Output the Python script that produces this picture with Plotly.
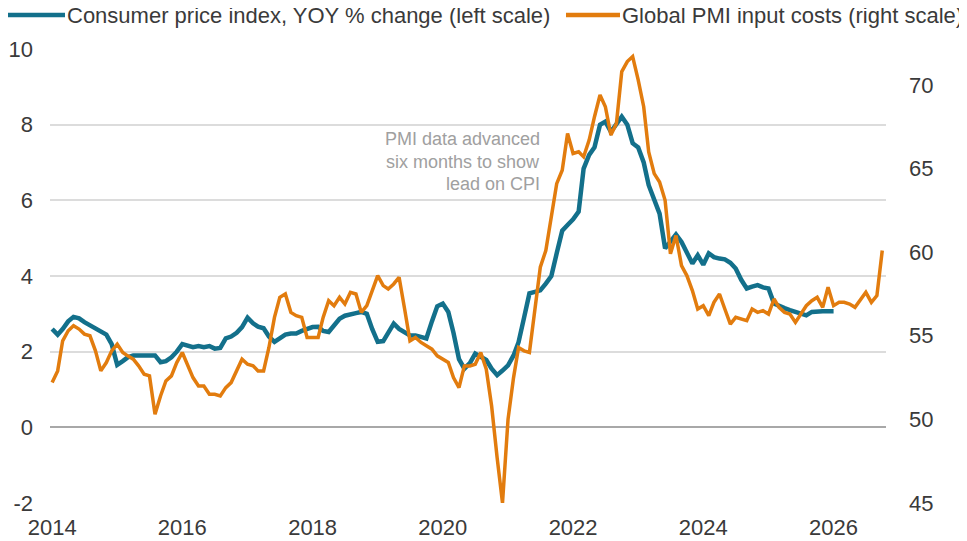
import pandas as pd
import plotly.graph_objects as go

# monthly series
cpi_start = "2014-01-01"
cpi_yoy = [
    2.6, 2.45, 2.6, 2.8, 2.92, 2.88, 2.78, 2.7, 2.62, 2.55, 2.45, 2.2,
    1.65, 1.75, 1.85, 1.9, 1.9, 1.9, 1.9, 1.9, 1.72, 1.75, 1.85, 2.0,
    2.2, 2.15, 2.12, 2.15, 2.12, 2.15, 2.08, 2.1, 2.35, 2.4, 2.5, 2.65,
    2.9, 2.75, 2.66, 2.62, 2.4, 2.26, 2.35, 2.45, 2.48, 2.48, 2.55, 2.6,
    2.65, 2.66, 2.55, 2.52, 2.7, 2.87, 2.95, 3.0, 3.02, 3.05, 3.0, 2.6,
    2.26, 2.28, 2.5, 2.74, 2.6, 2.52, 2.43, 2.43, 2.38, 2.35, 2.8, 3.2,
    3.27, 3.05, 2.5, 1.8, 1.55, 1.7, 1.95, 1.85, 1.78, 1.55, 1.38, 1.5,
    1.64, 1.9, 2.25, 2.9, 3.54, 3.58, 3.62, 3.8, 4.0, 4.6, 5.2, 5.35,
    5.5, 5.7, 6.84, 7.2, 7.4, 8.0, 8.08, 7.81, 8.0, 8.21, 8.0, 7.51,
    7.4, 7.0, 6.4, 6.0, 5.65, 4.73, 4.9, 5.1, 4.9, 4.6, 4.33, 4.55,
    4.3, 4.6, 4.5, 4.46, 4.44, 4.35, 4.2, 3.9, 3.67, 3.72, 3.76, 3.7,
    3.67, 3.27, 3.2, 3.15, 3.1, 3.05, 3.0, 2.96, 3.05, 3.07, 3.07, 3.07,
    3.07,
]

# PMI input costs, already shifted forward six months
pmi_start = "2014-01-01"
pmi_input = [
    52.2, 52.9, 54.7, 55.3, 55.6, 55.4, 55.1, 55.0, 54.1, 52.9, 53.4, 54.1,
    54.5, 54.0, 53.8, 53.6, 53.2, 52.7, 52.6, 50.3, 51.4, 52.3, 52.6, 53.4,
    54.0, 53.2, 52.5, 52.0, 52.0, 51.5, 51.5, 51.4, 51.9, 52.2, 52.9, 53.6,
    53.3, 53.2, 52.9, 52.9, 54.3, 56.1, 57.3, 57.5, 56.4, 56.2, 56.1, 54.9,
    54.9, 54.9, 56.1, 57.1, 56.8, 57.3, 56.9, 57.6, 57.5, 56.4, 56.8, 57.7,
    58.6, 58.0, 57.8, 58.1, 58.5, 56.6, 54.7, 54.9, 54.6, 54.4, 54.2, 53.8,
    53.6, 53.4, 52.5, 51.9, 53.2, 53.2, 53.3, 54.0, 53.0, 50.8, 47.7, 45.0,
    50.0, 52.5, 54.3, 54.1, 54.0, 56.4, 59.1, 60.1, 62.0, 64.1, 64.9, 67.1,
    65.9, 66.0, 65.7, 66.7, 68.1, 69.4, 68.7, 67.0, 67.7, 70.8, 71.4, 71.7,
    70.3, 68.7, 66.0, 64.7, 64.2, 63.1, 59.9, 61.0, 59.2, 58.6, 57.7, 56.6,
    56.8, 56.2, 57.0, 57.5, 56.6, 55.7, 56.1, 56.0, 55.9, 56.6, 56.4, 56.5,
    56.3, 57.2, 56.7, 56.4, 56.3, 55.8, 56.3, 56.8, 57.1, 57.3, 56.7, 57.9,
    56.8, 57.0, 57.0, 56.9, 56.7, 57.2, 57.6, 57.0, 57.4, 60.1,
]

cpi_name = "Consumer price index, YOY % change (left scale)"
pmi_name = "Global PMI input costs (right scale)"

note_lines = ["PMI data advanced", "six months to show", "lead on CPI"]
note_x = "2021-07-10"
note_y = [7.62, 7.02, 6.42]

left_ticks = [-2, 0, 2, 4, 6, 8, 10]
left_labels = ["-2", "0", "2", "4", "6", "8", "10"]
right_ticks = [45, 50, 55, 60, 65, 70]

FONT = "Arial, Liberation Sans, sans-serif"
TEXT = "#3a3a3a"
BLUE = "#13708b"
ORANGE = "#e27c0e"

W, H = 967, 541
# the page body adds an 8px offset, so margins are pulled in by that much
PAGE_PAD = 8
M = dict(l=42, r=89, t=41, b=46)


def px_x(px):
    return (px - PAGE_PAD - M["l"]) / (W - M["l"] - M["r"])


def px_y(py):
    return (H - M["b"] - (py - PAGE_PAD)) / (H - M["t"] - M["b"])


cpi_dates = pd.date_range(cpi_start, periods=len(cpi_yoy), freq="MS")
pmi_dates = pd.date_range(pmi_start, periods=len(pmi_input), freq="MS")

fig = go.Figure()
fig.add_trace(
    go.Scatter(
        x=cpi_dates,
        y=cpi_yoy,
        mode="lines",
        name=cpi_name,
        line=dict(color=BLUE, width=4.5),
    )
)
fig.add_trace(
    go.Scatter(
        x=pmi_dates,
        y=pmi_input,
        mode="lines",
        name=pmi_name,
        line=dict(color=ORANGE, width=3.5),
        yaxis="y2",
    )
)

# legend drawn by hand so it stays on one row above the plot
for (x0, x1), color, label in [
    ((8, 65), BLUE, cpi_name),
    ((566, 620), ORANGE, pmi_name),
]:
    fig.add_shape(
        type="line",
        xref="paper",
        yref="paper",
        x0=px_x(x0),
        x1=px_x(x1),
        y0=px_y(15),
        y1=px_y(15),
        line=dict(color=color, width=4.5),
    )
    fig.add_annotation(
        xref="paper",
        yref="paper",
        x=px_x(x1),
        y=px_y(16),
        text=label,
        showarrow=False,
        xanchor="left",
        yanchor="middle",
        font=dict(family=FONT, size=22, color=TEXT),
    )

for line, yv in zip(note_lines, note_y):
    fig.add_annotation(
        x=note_x,
        y=yv,
        text=line,
        showarrow=False,
        xanchor="right",
        yanchor="middle",
        font=dict(family=FONT, size=18, color="#a0a0a0"),
    )

fig.update_layout(
    width=W,
    height=H,
    margin=M,
    paper_bgcolor="white",
    plot_bgcolor="white",
    font=dict(family=FONT, size=22, color=TEXT),
    showlegend=False,
    xaxis=dict(
        type="date",
        range=["2013-12-20", "2026-10-22"],
        tick0="2014-01-01",
        dtick="M24",
        tickformat="%Y",
        showgrid=False,
        showline=False,
        zeroline=False,
        ticks="",
        automargin=False,
        ticklabelstandoff=9,
        tickfont=dict(size=22, color=TEXT),
    ),
    yaxis=dict(
        range=[-2, 10],
        tickvals=left_ticks,
        ticktext=left_labels,
        showgrid=True,
        gridcolor="#dcdcdc",
        gridwidth=1.5,
        zeroline=True,
        zerolinecolor="#a8a8a8",
        zerolinewidth=2,
        showline=False,
        ticks="",
        automargin=False,
        ticklabelstandoff=16,
        tickfont=dict(size=22, color=TEXT),
    ),
    yaxis2=dict(
        range=[45, 72.15],
        tickvals=right_ticks,
        overlaying="y",
        side="right",
        showgrid=False,
        zeroline=False,
        showline=False,
        ticks="",
        automargin=False,
        ticklabelstandoff=22,
        tickfont=dict(size=22, color=TEXT),
    ),
)

fig.write_html("out.html")
